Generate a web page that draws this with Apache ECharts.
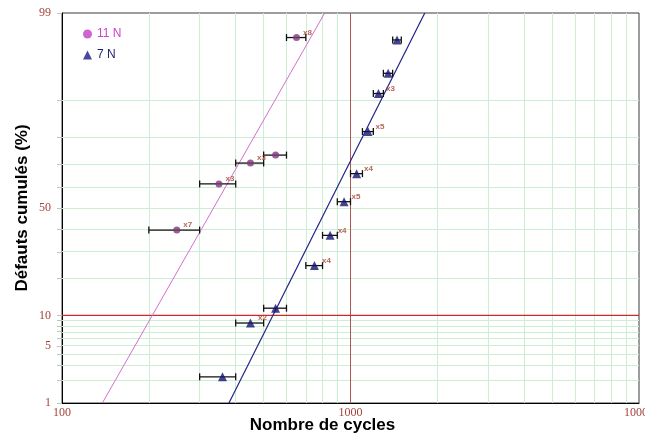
<!DOCTYPE html>
<html>
<head>
<meta charset="utf-8">
<script src="https://cdn.jsdelivr.net/npm/echarts@6/dist/echarts.min.js"></script>
<style>
  html, body { margin: 0; padding: 0; background: #ffffff; }
  #chart { width: 645px; height: 439px; }
</style>
</head>
<body>
<div id="chart"></div>
<script>
// ---- 11 N load: interval midpoints, interval bounds, cumulative failures (%) ----
const cycles11 = [250, 350, 450, 550, 650];
const low11    = [200, 300, 400, 500, 600];
const high11   = [300, 400, 500, 600, 700];
const pct11    = [39.6, 61.3, 70.4, 73.6, 97.9];
const count11  = ['x7', 'x3', 'x3', '', 'x8'];

// ---- 7 N load ----
const cycles7 = [360, 450, 550, 750, 850, 950, 1050, 1150, 1250, 1350, 1450];
const low7    = [300, 400, 500, 700, 800, 900, 1000, 1100, 1200, 1300, 1400];
const high7   = [400, 500, 600, 800, 900, 1000, 1100, 1200, 1300, 1400, 1500];
const pct7    = [2.2, 8.5, 11.6, 24.6, 37.2, 53.0, 65.9, 81.9, 91.4, 94.6, 97.75];
const count7  = ['', 'x2', '', 'x4', 'x4', 'x5', 'x4', 'x5', 'x3', '', ''];

// ---- fitted lognormal lines, given by their cycles at 1 % and 99 % ----
const fitPct      = [1, 99];
const fit11Cycles = [138, 814];
const fit7Cycles  = [379, 1809];

// ---- axes ----
const xRange = [100, 10000];
const pctRange = [1, 99];
const yTickLabels = [1, 5, 10, 50, 99];
const yGridPct    = [2, 3, 4, 5, 6, 7, 8, 9, 20, 30, 40, 50, 60, 70, 80, 90];
const xGridCycles = [200, 300, 400, 500, 600, 700, 800, 900,
                     2000, 3000, 4000, 5000, 6000, 7000, 8000, 9000];
const refCycles = 1000;
const refPct = 10;

// inverse standard normal CDF (Acklam) -> probability-paper ordinate
function probit(p) {
  const a = [-3.969683028665376e+01, 2.209460984245205e+02, -2.759285104469687e+02,
             1.383577518672690e+02, -3.066479806614716e+01, 2.506628277459239e+00];
  const b = [-5.447609879822406e+01, 1.615858368580409e+02, -1.556989798598866e+02,
             6.680131188771972e+01, -1.328068155288572e+01];
  const c = [-7.784894002430293e-03, -3.223964580411365e-01, -2.400758277161838e+00,
             -2.549732969807177e+00, 4.374664141464968e+00, 2.938163982698783e+00];
  const d = [7.784695709041462e-03, 3.224671290700398e-01, 2.445134137142996e+00,
             3.754408661907416e+00];
  const plow = 0.02425;
  let q, r;
  if (p < plow) {
    q = Math.sqrt(-2 * Math.log(p));
    return (((((c[0]*q+c[1])*q+c[2])*q+c[3])*q+c[4])*q+c[5]) /
           ((((d[0]*q+d[1])*q+d[2])*q+d[3])*q+1);
  }
  if (p <= 1 - plow) {
    q = p - 0.5; r = q * q;
    return (((((a[0]*r+a[1])*r+a[2])*r+a[3])*r+a[4])*r+a[5])*q /
           (((((b[0]*r+b[1])*r+b[2])*r+b[3])*r+b[4])*r+1);
  }
  q = Math.sqrt(-2 * Math.log(1 - p));
  return -(((((c[0]*q+c[1])*q+c[2])*q+c[3])*q+c[4])*q+c[5]) /
          ((((d[0]*q+d[1])*q+d[2])*q+d[3])*q+1);
}
const pz = pct => probit(pct / 100);

const points11 = cycles11.map((v, i) => [v, pz(pct11[i])]);
const points7  = cycles7.map((v, i) => [v, pz(pct7[i])]);
const bars11 = low11.map((v, i) => [v, high11[i], pz(pct11[i])]);
const bars7  = low7.map((v, i) => [v, high7[i], pz(pct7[i])]);
const fit11 = fit11Cycles.map((v, i) => [v, pz(fitPct[i])]);
const fit7  = fit7Cycles.map((v, i) => [v, pz(fitPct[i])]);
const refVertical   = pctRange.map(p => [refCycles, pz(p)]);
const refHorizontal = xRange.map(v => [v, pz(refPct)]);

const labelFont = 'Liberation Serif';
const gridColor = '#cdeed3';

function renderErrorBar(params, api) {
  const y = api.value(2);
  const p1 = api.coord([api.value(0), y]);
  const p2 = api.coord([api.value(1), y]);
  const cap = 3.5;
  const style = { stroke: '#111111', lineWidth: 1.3 };
  return {
    type: 'group',
    children: [
      { type: 'line', shape: { x1: p1[0], y1: p1[1], x2: p2[0], y2: p2[1] }, style },
      { type: 'line', shape: { x1: p1[0], y1: p1[1] - cap, x2: p1[0], y2: p1[1] + cap }, style },
      { type: 'line', shape: { x1: p2[0], y1: p2[1] - cap, x2: p2[0], y2: p2[1] + cap }, style }
    ]
  };
}

const countLabel = (counts) => ({
  show: true,
  position: 'right',
  distance: 3,
  offset: [0, -5],
  fontSize: 8,
  fontWeight: 'bold',
  fontFamily: 'Liberation Sans',
  color: '#a2402e',
  formatter: p => counts[p.dataIndex]
});

const chart = echarts.init(document.getElementById('chart'), null, { renderer: 'canvas' });

chart.setOption({
  animation: false,
  backgroundColor: '#ffffff',
  grid: {
    left: 62, right: 6, top: 13, bottom: 36,
    containLabel: false, outerBoundsMode: 'none',
    show: true, borderColor: '#3a3a3a', borderWidth: 1, backgroundColor: 'transparent'
  },
  legend: {
    orient: 'vertical',
    left: 83, top: 28, padding: 0,
    itemWidth: 9, itemHeight: 9, itemGap: 9,
    textStyle: { fontFamily: 'Liberation Sans', fontSize: 12 },
    data: [
      { name: '11 N', icon: 'circle', itemStyle: { color: '#c63cc6' }, textStyle: { color: '#cc44cc' } },
      { name: '7 N', icon: 'triangle', itemStyle: { color: '#1a1a8c' }, textStyle: { color: '#1e1e6e' } }
    ],
    selectedMode: false
  },
  xAxis: {
    type: 'log', logBase: 10, min: xRange[0], max: xRange[1],
    axisLine: { show: true, onZero: false, lineStyle: { color: '#000000', width: 1 } },
    axisTick: { show: false },
    splitLine: { show: false },
    minorSplitLine: { show: false },
    axisLabel: {
      margin: 4, fontFamily: labelFont, fontSize: 12, color: '#a5423a',
      formatter: v => String(Math.round(v))
    }
  },
  yAxis: {
    type: 'value', min: pz(pctRange[0]), max: pz(pctRange[1]),
    axisLine: { show: true, onZero: false, lineStyle: { color: '#000000', width: 1 } },
    axisTick: {
      show: true, length: 5, inside: false,
      customValues: yTickLabels.concat(yGridPct).map(pz),
      lineStyle: { color: '#b8c8b8' }
    },
    splitLine: { show: false },
    axisLabel: {
      margin: 11, fontFamily: labelFont, fontSize: 12, color: '#a5423a',
      customValues: yTickLabels.map(pz),
      formatter: v => {
        let best = yTickLabels[0], bd = Infinity;
        yTickLabels.forEach(t => { const dd = Math.abs(pz(t) - v); if (dd < bd) { bd = dd; best = t; } });
        return String(best);
      }
    }
  },
  graphic: [
    {
      type: 'text', left: 'center', top: 417,
      style: { text: 'Nombre de cycles', font: 'bold 17px "Liberation Sans", Arial', fill: '#000000' }
    },
    {
      type: 'text', x: 22, y: 208, rotation: Math.PI / 2,
      style: {
        text: 'Défauts cumulés (%)', font: 'bold 17px "Liberation Sans", Arial', fill: '#000000',
        align: 'center', verticalAlign: 'middle'
      }
    }
  ],
  series: [
    {
      // pale paper grid
      name: 'grid', type: 'line', z: 1, silent: true,
      data: [[xRange[0], pz(pctRange[0])]], symbol: 'none', lineStyle: { opacity: 0 },
      markLine: {
        silent: true, z: 1, symbol: ['none', 'none'], label: { show: false },
        emphasis: { disabled: true },
        lineStyle: { color: gridColor, width: 1, type: 'solid' },
        data: xGridCycles.map(v => ({ xAxis: v }))
          .concat(yGridPct.map(p => ({ yAxis: pz(p) })))
      }
    },
    {
      name: 'ref cycles', type: 'line', z: 2, silent: true, data: refVertical, symbol: 'none',
      lineStyle: { color: '#a85850', width: 1 }
    },
    {
      name: 'ref pct', type: 'line', z: 2, silent: true, data: refHorizontal, symbol: 'none',
      lineStyle: { color: '#cc2a2a', width: 1.4 }
    },
    {
      name: 'fit 11 N', type: 'line', z: 3, silent: true, data: fit11, symbol: 'none',
      lineStyle: { color: '#d36ed3', width: 1 }
    },
    {
      name: 'fit 7 N', type: 'line', z: 3, silent: true, data: fit7, symbol: 'none',
      lineStyle: { color: '#22228a', width: 1.2 }
    },
    {
      name: 'bars 11 N', type: 'custom', z: 4, silent: true, data: bars11,
      encode: { x: [0, 1], y: 2 }, renderItem: renderErrorBar
    },
    {
      name: 'bars 7 N', type: 'custom', z: 4, silent: true, data: bars7,
      encode: { x: [0, 1], y: 2 }, renderItem: renderErrorBar
    },
    {
      name: '11 N', type: 'scatter', z: 5, data: points11,
      symbol: 'circle', symbolSize: 7,
      itemStyle: { color: '#7e3a78' },
      label: countLabel(count11)
    },
    {
      name: '7 N', type: 'scatter', z: 5, data: points7,
      symbol: 'triangle', symbolSize: 9,
      itemStyle: { color: '#14146e' },
      label: countLabel(count7)
    }
  ]
});
</script>
</body>
</html>
